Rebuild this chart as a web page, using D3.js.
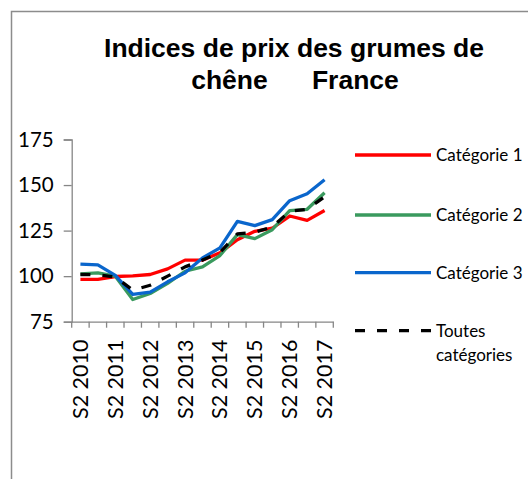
<!DOCTYPE html>
<html>
<head>
<meta charset="utf-8">
<script src="https://cdn.jsdelivr.net/npm/d3@7"></script>
<style>
  html, body { margin: 0; padding: 0; background: #fff; }
  svg { display: block; }
</style>
</head>
<body>
<svg id="chart" width="528" height="479"></svg>
<script>
// ---- data ----
const categories = ["S2 2010","S1 2011","S2 2011","S1 2012","S2 2012","S1 2013","S2 2013","S1 2014",
                    "S2 2014","S1 2015","S2 2015","S1 2016","S2 2016","S1 2017","S2 2017"];
const tickLabels = ["S2 2010","S2 2011","S2 2012","S2 2013","S2 2014","S2 2015","S2 2016","S2 2017"];
const seriesNames = ["Catégorie 1","Catégorie 2","Catégorie 3","Toutes catégories"];
const cat1 = [98.2, 98.2, 99.8, 100.2, 100.9, 104.0, 108.8, 108.8, 112.8, 120.0, 124.6, 126.3, 133.0, 130.6, 136.0];
const cat2 = [101.3, 101.8, 100.0, 87.2, 90.5, 96.0, 102.7, 105.1, 111.3, 122.8, 120.6, 125.5, 136.0, 136.7, 145.8];
const cat3 = [106.6, 106.2, 100.4, 90.0, 91.2, 96.9, 101.8, 110.0, 115.5, 130.1, 127.7, 131.0, 141.4, 145.2, 152.9];
const toutes = [100.9, 100.7, 99.6, 92.3, 95.0, 100.0, 105.1, 108.8, 113.1, 123.2, 124.1, 127.0, 135.6, 136.7, 143.6];
const yTicks = [75, 100, 125, 150, 175];

const series = [
  { name: seriesNames[0], values: cat1, color: "#ff0000", dash: null },
  { name: seriesNames[1], values: cat2, color: "#3a9a5e", dash: null },
  { name: seriesNames[2], values: cat3, color: "#0a66cc", dash: null },
  { name: seriesNames[3], values: toutes, color: "#000000", dash: "10,12" }
];

const svg = d3.select("#chart");
const axisColor = "#868686";
const labelFont = "Lato, 'Open Sans', sans-serif";

// frame lines (chart area border, partially visible)
svg.append("path")
  .attr("d", "M11.5,479 V11.5 H528")
  .attr("fill", "none").attr("stroke", "#8c8c8c").attr("stroke-width", 1.5);

// title
const title = svg.append("text")
  .attr("text-anchor", "middle")
  .attr("font-family", "'Liberation Sans', Arial, sans-serif")
  .attr("font-weight", "bold")
  .attr("font-size", 26.5)
  .attr("fill", "#000")
  .style("white-space", "pre")
  .attr("xml:space", "preserve");
title.append("tspan").attr("x", 294).attr("y", 56.5).text("Indices de prix des grumes de");
title.append("tspan").attr("x", 295).attr("y", 88.5).text("chêne      France");

// scales
const x = d3.scaleBand().domain(categories).range([71.7, 333.3]).padding(0);
const y = d3.scaleLinear().domain([75, 175]).range([321.7, 139.5]);

// y axis
const yAxis = svg.append("g")
  .attr("transform", "translate(71.7,0)")
  .call(d3.axisLeft(y).tickValues(yTicks).tickSize(8).tickPadding(10).tickFormat(d3.format("d")));
yAxis.select(".domain").attr("stroke", axisColor).attr("stroke-width", 1.3);
yAxis.selectAll(".tick line").attr("stroke", axisColor).attr("stroke-width", 1.3);
yAxis.selectAll(".tick text")
  .attr("font-family", labelFont).attr("font-size", 20.5).attr("fill", "#000");

// x axis
const xAxis = svg.append("g")
  .attr("transform", `translate(0,${y(75)})`)
  .call(d3.axisBottom(x).tickSize(0).tickFormat(""));
xAxis.select(".domain").attr("stroke", axisColor).attr("stroke-width", 1.3);
xAxis.selectAll(".tick").remove();
// tick marks at band boundaries
const boundaries = categories.map(c => x(c)).concat([x(categories[categories.length - 1]) + x.bandwidth()]);
xAxis.selectAll("line.bt").data(boundaries).join("line")
  .attr("class", "bt")
  .attr("x1", d => d).attr("x2", d => d)
  .attr("y1", 0).attr("y2", 6)
  .attr("stroke", axisColor).attr("stroke-width", 1.3);
// x labels (every other category)
svg.append("g").selectAll("text").data(tickLabels).join("text")
  .attr("transform", d => `translate(${x(d) + x.bandwidth() / 2 + 7.5},339.5) rotate(-90)`)
  .attr("text-anchor", "end")
  .attr("font-family", labelFont).attr("font-size", 21.5).attr("fill", "#000")
  .text(d => d);

// lines
const line = d3.line()
  .x((d, i) => x(categories[i]) + x.bandwidth() / 2)
  .y(d => y(d));
svg.append("g").selectAll("path").data(series).join("path")
  .attr("d", d => line(d.values))
  .attr("fill", "none")
  .attr("stroke", d => d.color)
  .attr("stroke-width", 3.3)
  .attr("stroke-linejoin", "round")
  .attr("stroke-dasharray", d => d.dash);

// legend
const legendY = [155, 215, 272.7, 330.7];
const lg = svg.append("g").selectAll("g").data(series).join("g")
  .attr("transform", (d, i) => `translate(355,${legendY[i]})`);
lg.append("line")
  .attr("x1", 0).attr("x2", 76).attr("y1", 0).attr("y2", 0)
  .attr("stroke", d => d.color).attr("stroke-width", 3.3)
  .attr("stroke-dasharray", d => d.dash);
lg.append("text")
  .attr("x", 81)
  .attr("font-family", labelFont).attr("font-size", 17).attr("fill", "#000")
  .each(function(d) {
    const t = d3.select(this);
    const words = d.name === "Toutes catégories" ? ["Toutes", "catégories"] : [d.name];
    words.forEach((w, k) => {
      t.append("tspan").attr("x", 81).attr("y", 6 + k * 24).text(w);
    });
  });
</script>
</body>
</html>
